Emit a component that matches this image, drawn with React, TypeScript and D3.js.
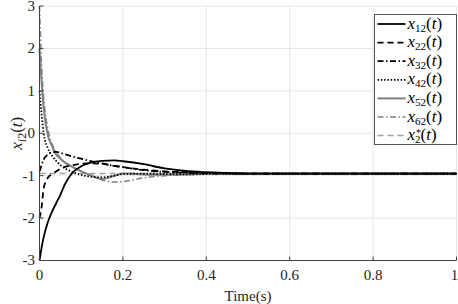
import React, { useEffect, useRef } from 'react';
import * as d3 from 'd3';

// sample times (s)
const times = [0, 0.005, 0.01, 0.02, 0.03, 0.04, 0.05, 0.06, 0.08, 0.1, 0.12, 0.15, 0.18, 0.2, 0.25, 0.3, 0.35, 0.4, 0.5, 0.6, 0.8, 1.0];

const x12 = [-3, -2.7, -2.45, -2.1, -1.85, -1.65, -1.45, -1.22, -0.92, -0.78, -0.7, -0.65, -0.64, -0.66, -0.73, -0.83, -0.89, -0.92, -0.95, -0.95, -0.95, -0.95];
const x22 = [-2, -1.75, -1.3, -1.05, -0.96, -0.9, -0.84, -0.8, -0.75, -0.72, -0.71, -0.72, -0.77, -0.8, -0.86, -0.9, -0.92, -0.94, -0.95, -0.95, -0.95, -0.95];
const x32 = [-0.9, -0.75, -0.62, -0.5, -0.45, -0.44, -0.46, -0.49, -0.55, -0.6, -0.65, -0.71, -0.77, -0.8, -0.87, -0.91, -0.93, -0.94, -0.95, -0.95, -0.95, -0.95];
const x42 = [1, 0.45, 0.0, -0.35, -0.53, -0.65, -0.75, -0.82, -0.92, -0.98, -1.02, -1.04, -1.0, -0.96, -0.95, -0.96, -0.97, -0.96, -0.95, -0.95, -0.95, -0.95];
const x52 = [2, 1.2, 0.6, -0.05, -0.3, -0.5, -0.6, -0.68, -0.8, -0.9, -0.98, -1.08, -1.0, -0.95, -0.97, -0.98, -0.97, -0.96, -0.95, -0.95, -0.95, -0.95];
const x62 = [3, 1.6, 0.85, 0.1, -0.25, -0.45, -0.58, -0.67, -0.8, -0.9, -0.98, -1.1, -1.15, -1.14, -1.05, -1.0, -0.97, -0.96, -0.95, -0.95, -0.95, -0.95];
const xStar = times.map(() => -0.95);

const xTicks = [0, 0.2, 0.4, 0.6, 0.8, 1];
const yTicks = [-3, -2, -1, 0, 1, 2, 3];

const seriesNames = ['12', '22', '32', '42', '52', '62', '*'];
const seriesValues = [x12, x22, x32, x42, x52, x62, xStar];
const seriesColors = ['#000', '#000', '#000', '#000', '#808080', '#808080', '#a0a0a0'];
const seriesDash = ['none', '6,4', '6,2.5,1.5,2.5', '1.5,1.8', 'none', '6,2.5,1.5,2.5', '6,4'];
const seriesWidth = [1.8, 1.8, 1.8, 1.8, 2, 1.5, 1.5];

const App: React.FC = () => {
  const svgRef = useRef<SVGSVGElement>(null);

  useEffect(() => {
    if (!svgRef.current) return;
    const svg = d3.select(svgRef.current);
    svg.selectAll('*').remove();

    const x = d3.scaleLinear().domain([0, 1]).range([39.5, 456.5]);
    const y = d3.scaleLinear().domain([-3, 3]).range([260.5, 6]);
    const serif = '"Liberation Serif", "DejaVu Serif", serif';

    // grid
    svg.append('g').selectAll('line.gx').data(xTicks).enter().append('line')
      .attr('x1', d => x(d)).attr('x2', d => x(d))
      .attr('y1', y(-3)).attr('y2', y(3))
      .attr('stroke', '#e6e6e6').attr('stroke-width', 1);
    svg.append('g').selectAll('line.gy').data(yTicks).enter().append('line')
      .attr('x1', x(0)).attr('x2', x(1))
      .attr('y1', d => y(d)).attr('y2', d => y(d))
      .attr('stroke', '#e6e6e6').attr('stroke-width', 1);

    // lines
    const line = d3.line<number>()
      .x((_, i) => x(times[i]))
      .y(d => y(d))
      .curve(d3.curveMonotoneX);

    const order = [6, 5, 4, 3, 2, 1, 0];
    order.forEach(k => {
      svg.append('path')
        .attr('d', line(seriesValues[k]) as string)
        .attr('fill', 'none')
        .attr('stroke', seriesColors[k])
        .attr('stroke-width', seriesWidth[k])
        .attr('stroke-dasharray', seriesDash[k]);
    });

    // axes
    svg.append('line').attr('x1', x(0)).attr('x2', x(0)).attr('y1', y(3)).attr('y2', y(-3))
      .attr('stroke', '#404040').attr('stroke-width', 1);
    svg.append('line').attr('x1', x(0)).attr('x2', x(1)).attr('y1', y(-3)).attr('y2', y(-3))
      .attr('stroke', '#404040').attr('stroke-width', 1);

    svg.selectAll('line.tx').data(xTicks).enter().append('line')
      .attr('x1', d => x(d)).attr('x2', d => x(d))
      .attr('y1', y(-3)).attr('y2', y(-3) - 4)
      .attr('stroke', '#404040');
    svg.selectAll('line.ty').data(yTicks).enter().append('line')
      .attr('x1', x(0)).attr('x2', x(0) + 4)
      .attr('y1', d => y(d)).attr('y2', d => y(d))
      .attr('stroke', '#404040');

    svg.selectAll('text.xt').data(xTicks).enter().append('text')
      .attr('x', d => (d === 1 ? x(d) - 2 : x(d))).attr('y', 280)
      .attr('text-anchor', 'middle')
      .style('font-family', serif).style('font-size', '15px').style('fill', '#262626')
      .text(d => String(d));
    svg.selectAll('text.yt').data(yTicks).enter().append('text')
      .attr('x', 35).attr('y', d => y(d)).attr('dy', '0.33em')
      .attr('text-anchor', 'end')
      .style('font-family', serif).style('font-size', '15px').style('fill', '#262626')
      .text(d => (d < 0 ? '-' + Math.abs(d) : String(d)));

    svg.append('text')
      .attr('x', (x(0) + x(1)) / 2).attr('y', 301)
      .attr('text-anchor', 'middle')
      .style('font-family', serif).style('font-size', '15px').style('fill', '#262626')
      .text('Time(s)');

    // y label x_{i2}(t)
    const yl = svg.append('text')
      .attr('transform', `translate(22,${y(0)}) rotate(-90)`)
      .attr('text-anchor', 'middle')
      .style('font-family', serif).style('font-size', '17px').style('fill', '#262626');
    yl.append('tspan').style('font-style', 'italic').text('x');
    yl.append('tspan').attr('dy', 4).style('font-size', '12px').style('font-style', 'italic').text('i');
    yl.append('tspan').style('font-size', '12px').text('2');
    yl.append('tspan').attr('dy', -4).text('(');
    yl.append('tspan').style('font-style', 'italic').text('t');
    yl.append('tspan').text(')');

    // legend
    const lg = svg.append('g');
    const lx0 = 374.5, ly0 = 14.5, lw = 82, lh = 130;
    lg.append('rect').attr('x', lx0).attr('y', ly0).attr('width', lw).attr('height', lh)
      .attr('fill', '#fff').attr('stroke', '#555').attr('stroke-width', 1);
    const rowH = 18.6;
    seriesNames.forEach((name, i) => {
      const cy = ly0 + 9.5 + i * rowH;
      lg.append('line')
        .attr('x1', lx0 + 3).attr('x2', lx0 + 31)
        .attr('y1', cy).attr('y2', cy)
        .attr('stroke', seriesColors[i])
        .attr('stroke-width', seriesWidth[i])
        .attr('stroke-dasharray', seriesDash[i]);
      const t = lg.append('text')
        .attr('x', lx0 + 33).attr('y', cy + 4.5)
        .style('font-family', serif).style('font-size', '17px').style('fill', '#000');
      t.append('tspan').style('font-style', 'italic').text('x');
      if (name === '*') {
        t.append('tspan').attr('dy', 3).style('font-size', '11px').text('2');
        t.append('tspan').attr('dy', -3).text('(');
        lg.append('text').attr('x', lx0 + 41.5).attr('y', cy + 0.5)
          .style('font-family', serif).style('font-size', '10px').text('*');
      } else {
        t.append('tspan').attr('dy', 3).style('font-size', '11px').text(name);
        t.append('tspan').attr('dy', -3).text('(');
      }
      t.append('tspan').style('font-style', 'italic').text('t');
      t.append('tspan').text(')');
    });
  }, []);

  return (
    <svg ref={svgRef} width={458} height={304}
      style={{ position: 'absolute', left: 0, top: 0, background: '#fff' }} />
  );
};

export default App;
